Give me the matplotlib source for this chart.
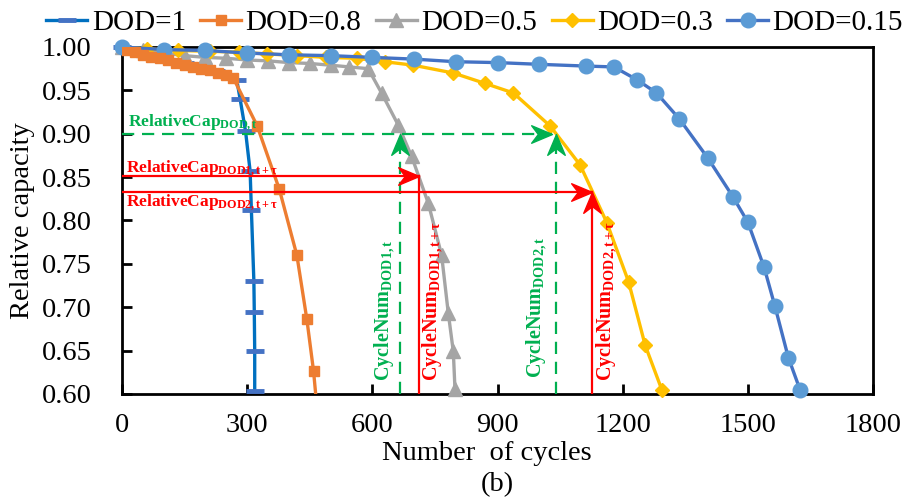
import matplotlib
matplotlib.use('Agg')
import matplotlib.pyplot as plt
from matplotlib.path import Path

plt.rcParams['font.family'] = ['Liberation Serif']
plt.rcParams['mathtext.fontset'] = 'custom'
plt.rcParams['mathtext.rm'] = 'Liberation Serif'
plt.rcParams['mathtext.bf'] = 'Liberation Serif:bold'
plt.rcParams['mathtext.it'] = 'Liberation Serif:italic'

# 各放电深度下的循环次数与相对容量
cyc_dod100 = [0, 25, 50, 75, 100, 125, 150, 175, 200, 225, 250, 275, 283, 296, 307, 310, 316, 317, 318, 318]
cap_dod100 = [1.0, 0.996, 0.993, 0.990, 0.987, 0.984, 0.981, 0.978, 0.975, 0.972, 0.968, 0.962,
              0.940, 0.903, 0.857, 0.8125, 0.730, 0.694, 0.649, 0.604]

cyc_dod80 = [0, 10, 30, 50, 70, 90, 110, 130, 150, 170, 190, 210, 230, 250, 267, 324, 377, 419, 443, 459, 468]
cap_dod80 = [1.0, 0.997, 0.994, 0.991, 0.989, 0.987, 0.985, 0.982, 0.979, 0.977, 0.975, 0.973, 0.970,
             0.968, 0.964, 0.909, 0.836, 0.760, 0.686, 0.6265, 0.58]

cyc_dod50 = [0, 50, 100, 150, 200, 250, 300, 350, 400, 450, 500, 545, 590, 622, 662, 694, 734, 766, 782, 794, 798]
cap_dod50 = [1.0, 0.997, 0.993, 0.990, 0.988, 0.987, 0.985, 0.984, 0.982, 0.981, 0.979, 0.977, 0.975,
             0.947, 0.910, 0.874, 0.820, 0.760, 0.693, 0.649, 0.606]

cyc_dod30 = [0, 60, 135, 210, 280, 347, 420, 490, 562, 630, 698, 794, 870, 938, 1026, 1098, 1162, 1214, 1254, 1294]
cap_dod30 = [1.0, 0.998, 0.996, 0.995, 0.994, 0.992, 0.990, 0.988, 0.987, 0.983, 0.979, 0.970, 0.958,
             0.947, 0.909, 0.864, 0.7975, 0.7295, 0.656, 0.6046]

cyc_dod15 = [0, 100, 200, 300, 400, 500, 600, 700, 800, 900, 1000, 1112, 1179, 1235, 1281, 1336, 1404,
             1464, 1500, 1539, 1565, 1597, 1625]
cap_dod15 = [1.0, 0.997, 0.996, 0.993, 0.991, 0.990, 0.988, 0.986, 0.983, 0.982, 0.980, 0.978, 0.977,
             0.962, 0.947, 0.917, 0.872, 0.8275, 0.798, 0.746, 0.701, 0.642, 0.605]

# 标注用的参考容量与循环次数
cap_t = 0.90
cap_dod1_tau = 0.851
cap_dod2_tau = 0.833
num_dod1_t = 666
num_dod1_tau = 711
num_dod2_t = 1040
num_dod2_tau = 1126

x_ticks = [0, 300, 600, 900, 1200, 1500, 1800]
y_ticks = [0.60, 0.65, 0.70, 0.75, 0.80, 0.85, 0.90, 0.95, 1.00]


def stealth(direction):
    # 箭头形状，尖端在原点
    verts = [(0, 0), (-1, 0.42), (-0.68, 0), (-1, -0.42), (0, 0)]
    if direction == 'up':
        verts = [(-y, x) for x, y in verts]
    codes = [Path.MOVETO, Path.LINETO, Path.LINETO, Path.LINETO, Path.CLOSEPOLY]
    return Path(verts, codes)


fig = plt.figure(figsize=(9.06, 5.03), dpi=100)
ax = fig.add_axes([0.1347, 0.2167, 0.8289, 0.6899])

ax.plot(cyc_dod100, cap_dod100, color='#0070C0', lw=2.4, marker='_', ms=13, mew=3.5,
        mec='#4472C4', label='DOD=1', clip_on=False, zorder=3)
ax.plot(cyc_dod80, cap_dod80, color='#ED7D31', lw=2.4, marker='s', ms=7.5,
        label='DOD=0.8', zorder=4)
ax.plot(cyc_dod50, cap_dod50, color='#A5A5A5', lw=2.4, marker='^', ms=9.5,
        label='DOD=0.5', clip_on=False, zorder=3)
ax.plot(cyc_dod30, cap_dod30, color='#FFC000', lw=2.4, marker='D', ms=7.5,
        label='DOD=0.3', clip_on=False, zorder=3)
ax.plot(cyc_dod15, cap_dod15, color='#4472C4', lw=2.4, marker='o', ms=10.5, mfc='#5B9BD5',
        mec='#5B9BD5', label='DOD=0.15', clip_on=False, zorder=3)

green = '#00B050'
red = '#FF0000'
dash = (0, (5.5, 3.5))

# 绿色虚线：容量 0.9 对应的循环次数
ax.plot([0, 1030], [cap_t, cap_t], color=green, lw=1.6, ls=dash, zorder=5)
ax.plot([num_dod1_t, num_dod1_t], [0.6, cap_t], color=green, lw=1.6, ls=dash, zorder=5)
ax.plot([num_dod2_t, num_dod2_t], [0.6, cap_t], color=green, lw=1.6, ls=dash, zorder=5)
ax.plot([1030], [cap_t], marker=stealth('right'), ms=30, color=green, ls='none', zorder=6)
ax.plot([num_dod1_t, num_dod2_t], [cap_t, cap_t], marker=stealth('up'), ms=30, color=green,
        ls='none', zorder=6)

# 红色实线：t+τ 时刻
ax.plot([0, num_dod1_tau], [cap_dod1_tau, cap_dod1_tau], color=red, lw=1.6, zorder=5)
ax.plot([num_dod1_tau, num_dod1_tau], [0.6, cap_dod1_tau], color=red, lw=1.6, zorder=5)
ax.plot([0, num_dod2_tau], [cap_dod2_tau, cap_dod2_tau], color=red, lw=1.6, zorder=5)
ax.plot([num_dod2_tau, num_dod2_tau], [0.6, cap_dod2_tau], color=red, lw=1.6, zorder=5)
ax.plot([num_dod1_tau, num_dod2_tau], [cap_dod1_tau, cap_dod2_tau], marker=stealth('right'),
        ms=30, color=red, ls='none', zorder=6)
ax.plot([num_dod2_tau], [cap_dod2_tau], marker=stealth('up'), ms=30, color=red, ls='none', zorder=6)

# 文字标注
ax.text(14, 0.909, r'$\mathbf{RelativeCap}_{\mathbf{DOD,t}}$', color=green, fontsize=12.5,
        ha='left', va='baseline', zorder=7)
ax.text(10, 0.856, r'$\mathbf{RelativeCap}_{\mathbf{DOD1,t+τ}}$', color=red, fontsize=12.5,
        ha='left', va='baseline', zorder=7)
ax.text(10, 0.8165, r'$\mathbf{RelativeCap}_{\mathbf{DOD2,t+τ}}$', color=red, fontsize=12.5,
        ha='left', va='baseline', zorder=7)

ax.text(659, 0.615, r'$\mathbf{CycleNum}_{\mathbf{DOD1,t}}$', color=green, fontsize=14.5,
        rotation=90, ha='right', va='bottom', zorder=7)
ax.text(717, 0.615, r'$\mathbf{CycleNum}_{\mathbf{DOD1,t+τ}}$', color=red, fontsize=14.5,
        rotation=90, ha='left', va='bottom', zorder=7)
ax.text(1023, 0.618, r'$\mathbf{CycleNum}_{\mathbf{DOD2,t}}$', color=green, fontsize=14.5,
        rotation=90, ha='right', va='bottom', zorder=7)
ax.text(1134, 0.615, r'$\mathbf{CycleNum}_{\mathbf{DOD2,t+τ}}$', color=red, fontsize=14.5,
        rotation=90, ha='left', va='bottom', zorder=7)

ax.set_xlim(0, 1800)
ax.set_ylim(0.6, 1.0)
ax.set_xticks(x_ticks)
ax.set_yticks(y_ticks)
ax.set_yticklabels(['%.2f' % v for v in y_ticks])
ax.tick_params(axis='both', direction='in', length=7, width=2, labelsize=20.5)
ax.tick_params(axis='x', pad=14)
ax.tick_params(axis='y', pad=22)
for side in ax.spines:
    ax.spines[side].set_linewidth(2)

fig.text(0.025, 0.561, 'Relative capacity', fontsize=20.5, rotation=90, ha='center', va='center')
fig.text(0.537, 0.099, 'Number  of cycles', fontsize=20.5, ha='center', va='center')
fig.text(0.549, 0.037, '(b)', fontsize=20.5, ha='center', va='center')

fig.legend(loc='center', bbox_to_anchor=(0.524, 0.955), ncol=5, frameon=False,
           fontsize=21, handlelength=1.4, handletextpad=0.15, columnspacing=0.5,
           borderaxespad=0)

plt.savefig('out.png', dpi=100)
